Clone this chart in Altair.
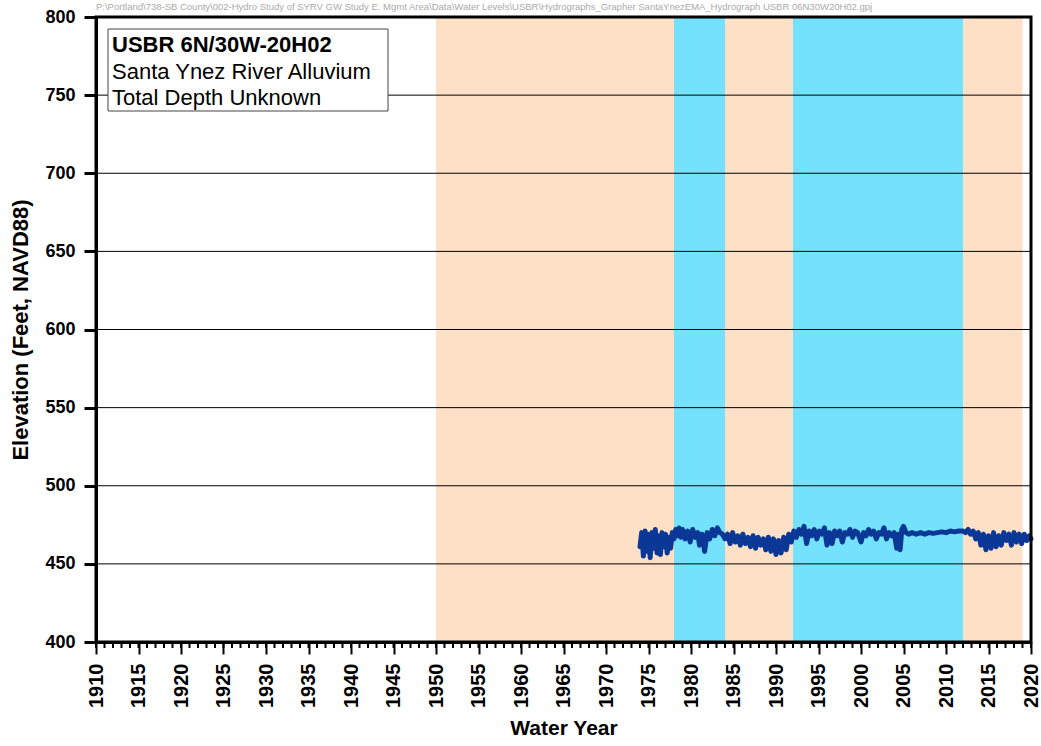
import altair as alt
import pandas as pd

FONT = "Arial, Liberation Sans, sans-serif"

# Climate-period bands
band_start = [1950, 1978, 1984, 1992, 2012]
band_end = [1978, 1984, 1992, 2012, 2019]
band_kind = ["dry", "wet", "dry", "wet", "dry"]

# Gridline levels
grid_levels = [450, 500, 550, 600, 650, 700, 750]

# Groundwater elevation (ft NAVD88)
years = [1974.0, 1974.2, 1974.4, 1974.6, 1974.8, 1975.0, 1975.2, 1975.4, 1975.6, 1975.8,
         1976.0, 1976.2, 1976.4, 1976.6, 1976.8, 1977.0, 1977.2, 1977.4, 1977.6, 1977.8,
         1978.0, 1978.2, 1978.4, 1978.6, 1978.8, 1979.0, 1979.3, 1979.6, 1979.9, 1980.2,
         1980.5, 1980.8, 1981.0, 1981.3, 1981.6, 1981.9, 1982.2, 1982.5, 1982.8, 1983.1,
         1983.4, 1983.7, 1984.0, 1984.3, 1984.6, 1984.9, 1985.2, 1985.5, 1985.8, 1986.1,
         1986.4, 1986.7, 1987.0, 1987.3, 1987.6, 1987.9, 1988.2, 1988.5, 1988.8, 1989.1,
         1989.4, 1989.7, 1990.0, 1990.3, 1990.6, 1990.9, 1991.2, 1991.5, 1991.8, 1992.1,
         1992.4, 1992.7, 1993.0, 1993.3, 1993.6, 1993.9, 1994.2, 1994.5, 1994.8, 1995.1,
         1995.4, 1995.7, 1996.0, 1996.3, 1996.6, 1996.9, 1997.2, 1997.5, 1997.8, 1998.1,
         1998.4, 1998.7, 1999.0, 1999.3, 1999.6, 2000.0, 2000.3, 2000.6, 2000.9, 2001.2,
         2001.5, 2001.8, 2002.1, 2002.4, 2002.7, 2003.0, 2003.3, 2003.6, 2003.9, 2004.2,
         2004.4, 2004.6, 2004.8, 2005.0, 2005.3, 2005.6, 2006.0, 2006.5, 2007.0, 2007.5,
         2008.0, 2008.5, 2009.0, 2009.5, 2010.0, 2010.5, 2011.0, 2011.5, 2012.0, 2012.3,
         2012.6, 2012.9, 2013.2, 2013.5, 2013.8, 2014.1, 2014.4, 2014.7, 2015.0, 2015.3,
         2015.6, 2015.9, 2016.2, 2016.5, 2016.8, 2017.1, 2017.4, 2017.7, 2018.0, 2018.3,
         2018.6, 2018.9, 2019.2, 2019.5, 2019.8, 2020.0]
elev = [461, 470, 455, 471, 458, 469, 454, 470, 460, 472,
        457, 468, 456, 470, 461, 469, 457, 467, 460, 470,
        466, 472, 468, 473, 467, 472, 466, 471, 464, 472,
        467, 470, 462, 469, 458, 470, 466, 472, 468, 473,
        470, 469, 466, 469, 463, 470, 464, 468, 462, 469,
        463, 467, 461, 468, 460, 467, 462, 466, 459, 467,
        458, 466, 456, 465, 457, 467, 459, 469, 464, 471,
        467, 472, 469, 474, 463, 471, 468, 472, 466, 471,
        469, 473, 462, 470, 463, 471, 468, 471, 464, 470,
        469, 472, 467, 471, 470, 464, 470, 468, 472, 469,
        471, 466, 470, 469, 473, 466, 470, 468, 470, 460,
        469, 459, 472, 474, 470, 469, 470, 469, 470, 469,
        470, 469.5, 470, 470.5, 470, 471, 470.5, 471, 471, 470,
        472, 469, 471, 466, 470, 462, 469, 459, 468, 460,
        470, 461, 468, 462, 470, 465, 469, 462, 470, 464,
        469, 463, 469, 465, 468, 466]

x_major = list(range(1910, 2021, 5))
x_minor = list(range(1910, 2021, 1))
y_ticks = list(range(400, 801, 50))

header = ("P:\\Portland\\738-SB County\\002-Hydro Study of SYRV GW Study E. Mgmt Area\\Data\\"
          "Water Levels\\USBR\\Hydrographs_Grapher SantaYnezEMA_Hydrograph USBR 06N30W20H02.gpj")
box_title = "USBR 6N/30W-20H02"
box_lines = ["Santa Ynez River Alluvium", "Total Depth Unknown"]

W, H = 935, 625

xscale = alt.Scale(domain=[1910, 2020], nice=False, zero=False)
yscale = alt.Scale(domain=[400, 800], nice=False, zero=False)

bands = pd.DataFrame({"start": band_start, "end": band_end, "kind": band_kind})
series = pd.DataFrame({"year": years, "elev": elev})
grid = pd.DataFrame({"level": grid_levels})
minor = pd.DataFrame({"year": x_minor})
one = pd.DataFrame({"a": [0]})

band_layer = alt.Chart(bands).mark_rect().encode(
    x=alt.X("start:Q", scale=xscale,
            axis=alt.Axis(values=x_major, format="d", labelAngle=270, title="Water Year",
                          tickSize=12, tickWidth=2, tickColor="black", domainWidth=3,
                          domainColor="black", labelPadding=9, labelFontSize=20,
                          labelFontWeight="bold", labelFont=FONT, labelColor="black",
                          titleFont=FONT, titleFontSize=21, titleFontWeight="bold",
                          titleColor="black", titlePadding=10, grid=False, zindex=2)),
    x2="end:Q",
    y=alt.value(0),
    y2=alt.value(H),
    color=alt.Color("kind:N", scale=alt.Scale(domain=["dry", "wet"],
                                              range=["#FDE0C6", "#74E2FC"]), legend=None),
)

grid_layer = alt.Chart(grid).mark_rule(color="black", strokeWidth=1).encode(
    y=alt.Y("level:Q", scale=yscale,
            axis=alt.Axis(values=y_ticks, format="d", title="Elevation (Feet, NAVD88)",
                          tickSize=12, tickWidth=3, tickColor="black", domainWidth=3,
                          domainColor="black", labelPadding=9, labelFontSize=18,
                          labelFontWeight="bold", labelFont=FONT, labelColor="black",
                          titleFont=FONT, titleFontSize=22, titleFontWeight="bold",
                          titleColor="black", titlePadding=12, grid=False, zindex=2)),
    x=alt.value(0),
    x2=alt.value(W),
)

minor_layer = alt.Chart(minor).mark_rule(color="black", strokeWidth=2).encode(
    x=alt.X("year:Q", scale=xscale),
    y=alt.value(H),
    y2=alt.value(H + 6),
)

line_layer = alt.Chart(series).mark_line(color="#0B3797", strokeWidth=5,
                                         strokeJoin="round", strokeCap="round").encode(
    x=alt.X("year:Q", scale=xscale),
    y=alt.Y("elev:Q", scale=yscale),
)

frame = alt.Chart(one).mark_rect(fill=None, stroke="black", strokeWidth=3).encode(
    x=alt.value(0), x2=alt.value(W), y=alt.value(0), y2=alt.value(H)
)

box = alt.Chart(one).mark_rect(fill="white", stroke="#444444", strokeWidth=1).encode(
    x=alt.value(12), x2=alt.value(292), y=alt.value(12), y2=alt.value(94)
)

t1 = alt.Chart(one).mark_text(text=box_title, align="left", baseline="alphabetic",
                              font=FONT, fontSize=22, fontWeight="bold",
                              color="black").encode(x=alt.value(16), y=alt.value(35))
t2 = alt.Chart(one).mark_text(text=box_lines[0], align="left", baseline="alphabetic",
                              font=FONT, fontSize=22, color="black").encode(
    x=alt.value(16), y=alt.value(62))
t3 = alt.Chart(one).mark_text(text=box_lines[1], align="left", baseline="alphabetic",
                              font=FONT, fontSize=22, color="black").encode(
    x=alt.value(16), y=alt.value(88))

hdr = alt.Chart(one).mark_text(text=header, align="left", baseline="middle",
                               font=FONT, fontSize=9.5, color="#aaaaaa").encode(
    x=alt.value(0), y=alt.value(-10))

chart = alt.layer(band_layer, grid_layer, minor_layer, line_layer, frame, box,
                  t1, t2, t3, hdr).properties(
    width=W, height=H,
    autosize=alt.AutoSizeParams(type="none"),
    padding={"left": 96, "top": 17, "right": 10, "bottom": 104},
).configure_view(stroke=None).configure(background="white")

chart.save("out.html", embed_options={"renderer": "svg", "actions": False})
